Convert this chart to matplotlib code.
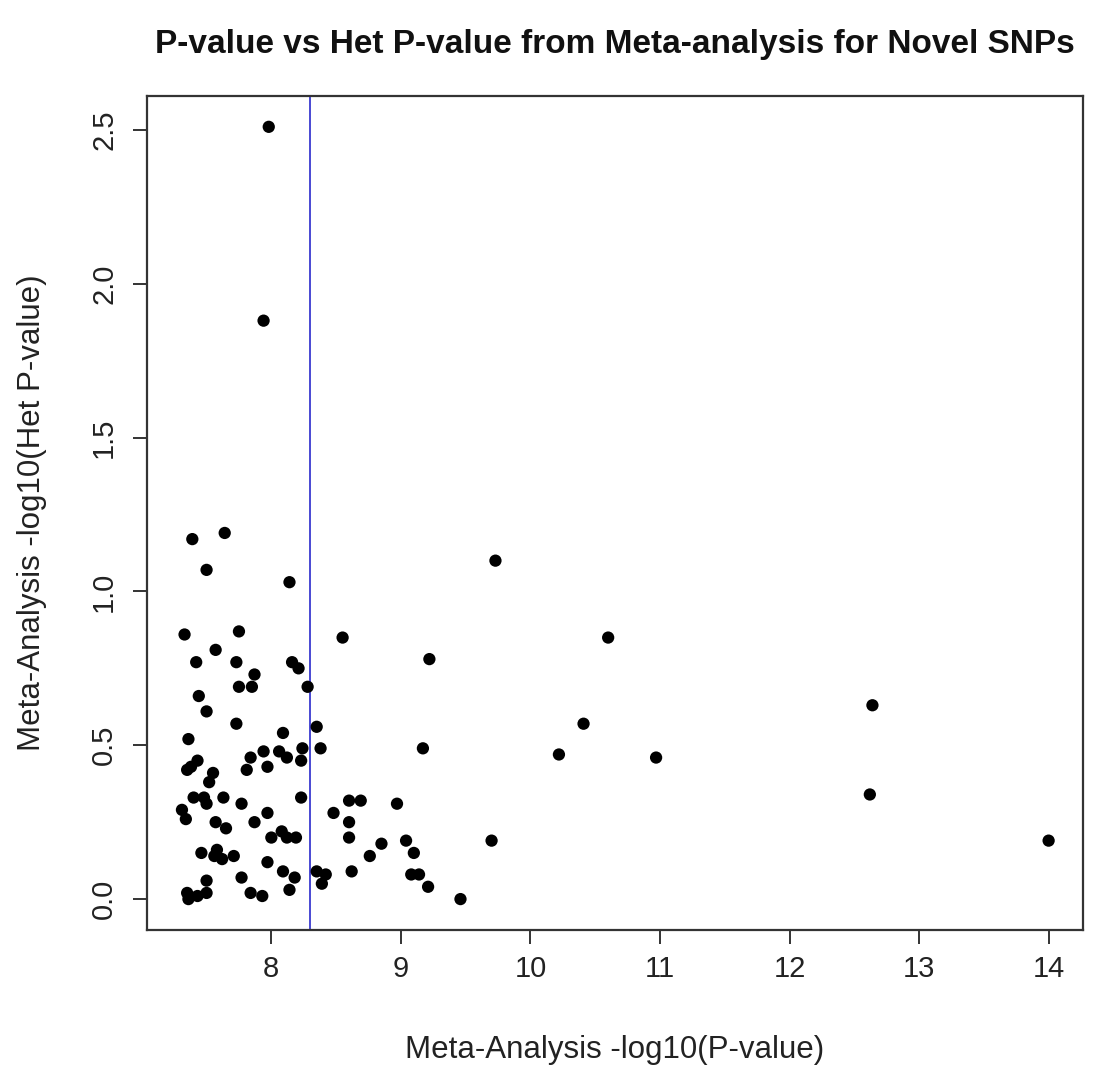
import matplotlib
matplotlib.use("Agg")
import matplotlib.pyplot as plt

# Meta-analysis -log10(P-value)
meta_logp = [
    7.98, 7.94, 7.64, 7.39, 7.50, 8.14, 7.33, 7.75, 8.55, 7.57,
    7.42, 7.73, 8.16, 8.21, 7.87, 7.75, 7.85, 8.28, 7.44, 7.50,
    9.22, 9.73, 10.60, 10.41, 12.64, 10.22, 10.97, 9.17, 12.62, 9.70,
    14.00, 9.46,
    7.73, 7.36, 7.43, 7.38, 7.35, 7.55, 7.52, 7.84, 7.81, 7.40,
    7.48, 7.63, 7.50, 7.77, 7.31,
    8.09, 8.35, 8.24, 8.38, 7.94, 8.06, 8.12, 8.23, 7.97, 8.23,
    7.34, 7.57, 7.65, 7.46, 7.58, 7.62, 7.71, 7.56, 7.77, 7.50,
    7.50, 7.35, 7.36, 7.43, 7.84,
    7.97, 7.87, 8.08, 8.00, 8.12, 8.19, 7.97, 8.09, 8.18, 8.14,
    7.93, 8.35, 8.42, 8.39, 8.48,
    8.60, 8.69, 8.97, 8.60, 8.60, 8.85, 8.76, 9.04, 9.10, 8.62,
    9.08, 9.14, 9.21,
]
# Meta-analysis -log10(Het P-value)
het_logp = [
    2.51, 1.88, 1.19, 1.17, 1.07, 1.03, 0.86, 0.87, 0.85, 0.81,
    0.77, 0.77, 0.77, 0.75, 0.73, 0.69, 0.69, 0.69, 0.66, 0.61,
    0.78, 1.10, 0.85, 0.57, 0.63, 0.47, 0.46, 0.49, 0.34, 0.19,
    0.19, 0.00,
    0.57, 0.52, 0.45, 0.43, 0.42, 0.41, 0.38, 0.46, 0.42, 0.33,
    0.33, 0.33, 0.31, 0.31, 0.29,
    0.54, 0.56, 0.49, 0.49, 0.48, 0.48, 0.46, 0.45, 0.43, 0.33,
    0.26, 0.25, 0.23, 0.15, 0.16, 0.13, 0.14, 0.14, 0.07, 0.06,
    0.02, 0.02, 0.00, 0.01, 0.02,
    0.28, 0.25, 0.22, 0.20, 0.20, 0.20, 0.12, 0.09, 0.07, 0.03,
    0.01, 0.09, 0.08, 0.05, 0.28,
    0.32, 0.32, 0.31, 0.25, 0.20, 0.18, 0.14, 0.19, 0.15, 0.09,
    0.08, 0.08, 0.04,
]
threshold = 8.30

title = "P-value vs Het P-value from Meta-analysis for Novel SNPs"
xlabel = "Meta-Analysis -log10(P-value)"
ylabel = "Meta-Analysis -log10(Het P-value)"
xticks = [8, 9, 10, 11, 12, 13, 14]
yticks = [0.0, 0.5, 1.0, 1.5, 2.0, 2.5]

plt.rcParams['font.family'] = ['Liberation Sans', 'DejaVu Sans']

fig = plt.figure(figsize=(11.0, 10.66), dpi=100)
ax = fig.add_axes([0.1339, 0.1276, 0.8509, 0.7824])

ax.scatter(meta_logp, het_logp, s=78, c='black', edgecolors='none', zorder=3)
ax.axvline(threshold, color='#3a3ad0', lw=1.3, zorder=2)

xr = max(meta_logp) - min(meta_logp)
yr = max(het_logp) - min(het_logp)
ax.set_xlim(min(meta_logp) - 0.04 * xr, max(meta_logp) + 0.04 * xr)
ax.set_ylim(min(het_logp) - 0.04 * yr, max(het_logp) + 0.04 * yr)

ax.set_xticks(xticks)
ax.set_xticklabels([str(t) for t in xticks])
ax.set_yticks(yticks)
ax.set_yticklabels([f"{t:.1f}" for t in yticks], rotation=90, va='center')

for sp in ax.spines.values():
    sp.set_color('#333333')
    sp.set_linewidth(1.6)
ax.tick_params(axis='both', direction='out', length=10, width=1.4,
               color='#333333', labelsize=21, labelcolor='#222222')
ax.tick_params(axis='x', pad=8)
ax.tick_params(axis='y', pad=11)

fig.text(0.5591, 1 - 45 / 1066, title, ha='center', va='center',
         fontsize=24, fontweight='bold', color='#111111')
fig.text(0.5591, 1 - 1050 / 1066, xlabel, ha='center', va='center',
         fontsize=22.5, color='#222222')
fig.text(32 / 1100, 0.1276 + 0.7824 / 2, ylabel, ha='center', va='center',
         rotation=90, fontsize=22.5, color='#222222')

fig.savefig("out.png", dpi=100, facecolor='white')
